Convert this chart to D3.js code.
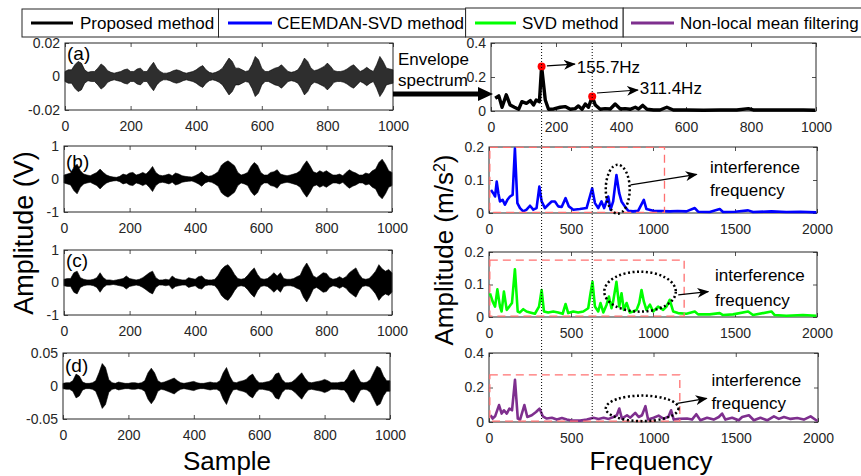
<!DOCTYPE html>
<html><head><meta charset="utf-8">
<script src="https://cdn.jsdelivr.net/npm/d3@7"></script>
<style>body{margin:0;background:#fff}svg text{font-family:"Liberation Sans",Arial,Helvetica,sans-serif}</style>
</head><body>
<svg id="c" width="861" height="476"></svg>
<script>
// ---------------- DATA ----------------
const legendLabels = ["Proposed method","CEEMDAN-SVD method","SVD method","Non-local mean filtering"];
const seriesColors = ["#000000","#0000ff","#00ff00","#7e2f8e"];
const panelLabels = ["(a)","(b)","(c)","(d)"];

// sample positions (every 10 samples) for the time-domain envelopes
const sampleIdx = d3.range(0, 1001, 10);

// peak amplitude per 10-sample bin
const sigA = [0.003,0.004,0.004,0.007,0.009,0.008,0.004,0.0025,0.003,0.003,
 0.005,0.0075,0.006,0.0035,0.0025,0.002,0.0025,0.003,0.004,0.0045,
 0.003,0.003,0.0045,0.005,0.003,0.003,0.006,0.0085,0.005,0.003,
 0.002,0.002,0.0025,0.0035,0.004,0.0035,0.0025,0.002,0.0025,0.003,
 0.004,0.0055,0.0065,0.004,0.0025,0.002,0.0025,0.0035,0.005,0.008,
 0.011,0.009,0.005,0.005,0.004,0.003,0.0035,0.007,0.012,0.010,
 0.005,0.003,0.003,0.004,0.005,0.0055,0.007,0.005,0.003,0.0025,
 0.003,0.004,0.007,0.011,0.009,0.005,0.0035,0.004,0.005,0.006,
 0.008,0.006,0.0035,0.003,0.003,0.0035,0.0045,0.006,0.007,0.005,
 0.003,0.004,0.0055,0.004,0.003,0.007,0.012,0.009,0.005,0.0045,0.004];
const sigB = [0.12,0.15,0.18,0.35,0.45,0.25,0.15,0.12,0.1,0.15,
 0.2,0.3,0.2,0.12,0.08,0.06,0.05,0.08,0.15,0.12,
 0.18,0.2,0.12,0.15,0.2,0.15,0.25,0.38,0.2,0.12,
 0.1,0.12,0.15,0.1,0.18,0.15,0.1,0.08,0.07,0.06,
 0.1,0.15,0.22,0.12,0.08,0.1,0.15,0.22,0.42,0.5,
 0.55,0.48,0.4,0.2,0.12,0.15,0.2,0.38,0.5,0.42,
 0.2,0.12,0.12,0.2,0.22,0.28,0.15,0.12,0.1,0.12,
 0.15,0.18,0.25,0.42,0.55,0.4,0.22,0.18,0.25,0.2,
 0.25,0.18,0.12,0.12,0.15,0.1,0.2,0.28,0.22,0.18,
 0.12,0.12,0.18,0.15,0.25,0.3,0.5,0.6,0.45,0.25,0.2];
const sigC = [0.1,0.12,0.12,0.3,0.35,0.15,0.1,0.08,0.08,0.1,
 0.15,0.3,0.15,0.08,0.08,0.06,0.08,0.1,0.12,0.2,
 0.12,0.1,0.08,0.1,0.15,0.22,0.3,0.35,0.15,0.08,
 0.08,0.1,0.08,0.2,0.12,0.1,0.08,0.08,0.15,0.12,
 0.1,0.18,0.2,0.1,0.08,0.08,0.1,0.22,0.4,0.5,
 0.55,0.42,0.25,0.12,0.1,0.12,0.22,0.35,0.45,0.25,
 0.12,0.1,0.12,0.2,0.3,0.2,0.3,0.12,0.1,0.1,
 0.12,0.18,0.22,0.45,0.6,0.42,0.2,0.15,0.22,0.3,
 0.28,0.15,0.1,0.12,0.18,0.12,0.18,0.3,0.38,0.45,
 0.25,0.12,0.1,0.12,0.22,0.35,0.55,0.42,0.35,0.4,0.3];
const sigD = [0.004,0.005,0.005,0.008,0.018,0.015,0.006,0.004,0.004,0.005,
 0.008,0.02,0.034,0.028,0.01,0.005,0.004,0.006,0.005,0.004,
 0.004,0.005,0.005,0.004,0.005,0.008,0.02,0.027,0.02,0.008,
 0.005,0.006,0.008,0.01,0.012,0.008,0.005,0.004,0.005,0.006,
 0.007,0.005,0.004,0.004,0.005,0.006,0.005,0.005,0.008,0.02,
 0.028,0.015,0.006,0.005,0.007,0.008,0.01,0.015,0.018,0.01,
 0.005,0.005,0.006,0.007,0.01,0.018,0.02,0.01,0.005,0.005,
 0.006,0.01,0.015,0.02,0.012,0.006,0.005,0.006,0.007,0.008,
 0.01,0.008,0.005,0.005,0.005,0.006,0.006,0.012,0.022,0.025,
 0.015,0.006,0.005,0.006,0.01,0.02,0.03,0.027,0.015,0.008,0.008];

// spectra: [frequency, amplitude]
const envSpecA = [[13,0.075],[24,0.089],[34,0.022],[47,0.095],[59,0.035],[72,0.022],[85,0.01],[95,0.055],
 [109,0.045],[121,0.061],[131,0.035],[139,0.065],[149,0.055],[155.7,0.262],[167,0.065],[177,0.01],
 [193,0.012],[213,0.022],[228,0.026],[244,0.01],[259,0.014],[269,0.03],[280,0.01],[290,0.041],
 [300,0.022],[311.4,0.085],[321,0.035],[336,0.01],[351,0.014],[367,0.012],[382,0.041],[398,0.012],
 [413,0.014],[428,0.01],[444,0.022],[454,0.012],[467,0.033],[480,0.01],[500,0.006],[520,0.006],
 [541,0.022],[561,0.006],[602,0.006],[654,0.004],[705,0.006],[756,0.006],[792,0.014],[807,0.006],
 [859,0.006],[910,0.006],[961,0.006],[997,0.004]];
const envPeaks = [[155.7,0.262],[311.4,0.085]];
const specB = [[12,0.07],[26,0.06],[37,0.05],[47,0.095],[57,0.06],[67,0.035],[83,0.04],[97,0.025],
 [112,0.04],[128,0.05],[144,0.055],[158,0.195],[173,0.03],[189,0.015],[209,0.005],[229,0.01],
 [250,0.022],[270,0.01],[290,0.015],[307,0.08],[321,0.035],[341,0.015],[361,0.025],[382,0.035],
 [402,0.035],[422,0.02],[443,0.018],[467,0.045],[487,0.02],[514,0.01],[554,0.012],[595,0.015],
 [615,0.05],[629,0.075],[646,0.03],[666,0.015],[686,0.035],[702,0.015],[727,0.05],[741,0.01],
 [757,0.035],[777,0.115],[794,0.06],[808,0.035],[828,0.02],[849,0.007],[879,0.005],[910,0.007],
 [944,0.04],[960,0.012],[1001,0.007],[1050,0.006],[1102,0.005],[1150,0.006],[1204,0.005],[1255,0.015],
 [1275,0.004],[1346,0.003],[1407,0.012],[1427,0.003],[1500,0.004],[1580,0.008],[1610,0.003],[1722,0.005],
 [1813,0.003],[1900,0.004],[1996,0.002]];
const specC = [[6,0.073],[22,0.048],[37,0.032],[51,0.085],[67,0.032],[77,0.017],[91,0.078],[108,0.022],
 [124,0.032],[140,0.043],[158,0.147],[175,0.017],[189,0.014],[209,0.024],[229,0.017],[250,0.014],
 [280,0.01],[305,0.032],[321,0.083],[335,0.017],[361,0.014],[392,0.017],[422,0.014],[449,0.01],
 [467,0.04],[483,0.012],[514,0.017],[544,0.014],[575,0.017],[605,0.027],[619,0.073],[631,0.108],
 [646,0.032],[666,0.017],[680,0.043],[697,0.014],[717,0.038],[731,0.063],[747,0.027],[757,0.048],
 [777,0.108],[794,0.032],[808,0.073],[822,0.022],[839,0.043],[859,0.014],[879,0.017],[900,0.022],
 [916,0.043],[930,0.083],[944,0.048],[960,0.022],[981,0.038],[1001,0.017],[1031,0.032],[1062,0.022],
 [1082,0.032],[1102,0.053],[1123,0.017],[1153,0.012],[1204,0.01],[1255,0.017],[1275,0.008],[1346,0.008],
 [1407,0.012],[1427,0.006],[1488,0.008],[1580,0.017],[1610,0.006],[1722,0.017],[1742,0.006],[1813,0.004],
 [1914,0.006],[1996,0.004]];
const specD = [[10,0.039],[22,0.02],[37,0.033],[61,0.098],[77,0.049],[91,0.068],[108,0.049],[124,0.078],
 [140,0.068],[158,0.244],[175,0.02],[189,0.014],[215,0.098],[233,0.029],[260,0.039],[286,0.058],
 [307,0.078],[327,0.033],[351,0.02],[382,0.025],[412,0.014],[443,0.023],[473,0.014],[504,0.008],
 [554,0.008],[595,0.014],[635,0.025],[666,0.018],[697,0.025],[727,0.018],[757,0.029],[777,0.039],
 [792,0.078],[808,0.02],[839,0.039],[859,0.025],[889,0.053],[910,0.029],[930,0.039],[951,0.092],
 [967,0.014],[1001,0.025],[1031,0.037],[1062,0.018],[1092,0.033],[1107,0.068],[1123,0.014],[1153,0.018],
 [1204,0.02],[1234,0.014],[1260,0.045],[1285,0.01],[1326,0.025],[1366,0.014],[1397,0.029],[1417,0.049],
 [1437,0.014],[1478,0.025],[1518,0.01],[1539,0.029],[1580,0.039],[1610,0.01],[1650,0.025],[1691,0.01],
 [1732,0.033],[1762,0.018],[1793,0.029],[1833,0.018],[1874,0.023],[1914,0.014],[1955,0.033],[1996,0.006]];

// tick labels
const sampleTicks = [0,200,400,600,800,1000];
const envFreqTicks = [0,200,400,600,800,1000];
const freqTicks = [0,500,1000,1500,2000];
const yTicksA = [-0.02,0,0.02];
const yTicksBC = [-1,0,1];
const yTicksD = [-0.05,0,0.05];
const yTicksEnv = [0,0.2,0.4];
const yTicksSpec = [0,0.1,0.2];

// ---------------- DRAWING ----------------
const svg = d3.select("#c");
const AX = "#262626";

function panel(r, xd, yd, xt, yt){
  const x = d3.scaleLinear().domain(xd).range([r.x0, r.x1]);
  const y = d3.scaleLinear().domain(yd).range([r.y1, r.y0]);
  const g = svg.append("g");
  const fmt = d => String(d);
  const style = sel => {
    sel.select(".domain").remove();
    sel.selectAll("line").attr("stroke", AX).attr("stroke-width", 0.8);
    sel.selectAll("text").attr("fill", AX).attr("font-size", 14);
    sel.attr("font-family", null).attr("font-size", null);
  };
  g.append("g").attr("transform", `translate(0,${r.y1})`)
    .call(d3.axisBottom(x).tickValues(xt).tickFormat(fmt).tickSizeInner(-4).tickSizeOuter(0).tickPadding(11)).call(style);
  g.append("g").attr("transform", `translate(0,${r.y0})`)
    .call(d3.axisTop(x).tickValues(xt).tickFormat("").tickSizeInner(-4).tickSizeOuter(0)).call(style);
  g.append("g").attr("transform", `translate(${r.x0},0)`)
    .call(d3.axisLeft(y).tickValues(yt).tickFormat(fmt).tickSizeInner(-4).tickSizeOuter(0).tickPadding(5)).call(style);
  g.append("g").attr("transform", `translate(${r.x1},0)`)
    .call(d3.axisRight(y).tickValues(yt).tickFormat("").tickSizeInner(-4).tickSizeOuter(0)).call(style);
  g.append("rect").attr("class","frame").attr("x", r.x0).attr("y", r.y0).attr("width", r.x1 - r.x0).attr("height", r.y1 - r.y0)
    .attr("fill", "none").attr("stroke", AX).attr("stroke-width", 1);
  return {x, y, g};
}

const L = [
  {x0:65, x1:393, y0:43, y1:110},
  {x0:64, x1:392, y0:146, y1:212},
  {x0:64, x1:392, y0:250, y1:315},
  {x0:63, x1:390, y0:353, y1:419}
];
const R = [
  {x0:491, x1:816, y0:43, y1:111},
  {x0:489, x1:817, y0:147, y1:213},
  {x0:489, x1:817, y0:252, y1:317},
  {x0:489, x1:818, y0:353, y1:422}
];
const sigs = [sigA, sigB, sigC, sigD];
const yDomL = [[-0.02,0.02],[-1,1],[-1,1],[-0.05,0.05]];
const yTL = [yTicksA, yTicksBC, yTicksBC, yTicksD];
const labelBase = [60,168,267,372];

sigs.forEach((s, k) => {
  const p = panel(L[k], [0,1000], yDomL[k], sampleTicks, yTL[k]);
  const col = k === 0 ? "#2e2e2e" : "#000";
  const area = d3.area().x((d,i) => p.x(sampleIdx[i])).y0(d => p.y(-d)).y1(d => p.y(d));
  p.g.insert("path", ".frame").datum(s).attr("d", area)
    .attr("fill", col).attr("stroke", "#000").attr("stroke-width", 0.6);
  p.g.append("text").attr("x", L[k].x0 + 2).attr("y", labelBase[k]).attr("font-size", 19).text(panelLabels[k]);
});

const defs = svg.append("defs");
defs.append("marker").attr("id","ah").attr("viewBox","0 0 12 10").attr("refX",11).attr("refY",5)
  .attr("markerWidth",12).attr("markerHeight",10).attr("markerUnits","userSpaceOnUse").attr("orient","auto")
  .append("path").attr("d","M0,0 L12,5 L0,10 L3.5,5 Z").attr("fill","#000");

const specs = [envSpecA, specB, specC, specD];
const xDomR = [[0,1000],[0,2000],[0,2000],[0,2000]];
const yDomR = [[0,0.4],[0,0.2],[0,0.2],[0,0.4]];
const xTR = [envFreqTicks, freqTicks, freqTicks, freqTicks];
const yTR = [yTicksEnv, yTicksSpec, yTicksSpec, yTicksEnv];
const widths = [3.4, 2.6, 2.6, 2.6];
const P = [];
specs.forEach((s, k) => {
  const p = panel(R[k], xDomR[k], yDomR[k], xTR[k], yTR[k]);
  P.push(p);
  const line = d3.line().x(d => p.x(d[0])).y(d => p.y(d[1]));
  p.g.append("path").datum(s).attr("d", line).attr("fill","none")
    .attr("stroke", seriesColors[k]).attr("stroke-width", widths[k]).attr("stroke-linejoin","round");
});
P[0].g.selectAll("circle.pk").data(envPeaks).join("circle")
  .attr("cx", d => P[0].x(d[0])).attr("cy", d => P[0].y(d[1])).attr("r", 4).attr("fill", "#ff0000");

envPeaks.forEach(d => {
  svg.append("line").attr("x1", P[0].x(d[0])).attr("x2", P[0].x(d[0]))
    .attr("y1", R[0].y0).attr("y2", R[3].y1 - 2)
    .attr("stroke", "#000").attr("stroke-width", 1).attr("stroke-dasharray", "1,2");
});

function arrow(p, a, b, w){
  svg.append("line").attr("x1", p.x(a[0])).attr("y1", p.y(a[1])).attr("x2", p.x(b[0])).attr("y2", p.y(b[1]))
    .attr("stroke","#000").attr("stroke-width", w || 1.2).attr("marker-end","url(#ah)");
}
arrow(P[0], [172,0.265], [258,0.276]);
svg.append("text").attr("x", P[0].x(264)).attr("y", P[0].y(0.2235)).attr("font-size", 17).text("155.7Hz");
arrow(P[0], [326,0.106], [452,0.1235]);
svg.append("text").attr("x", P[0].x(458)).attr("y", P[0].y(0.10)).attr("font-size", 17).text("311.4Hz");

const boxes = [null, [5,1070,0.002,0.199],[5,1190,0.003,0.175],[5,1160,0.005,0.273]];
const ells = [null, [785,0.072,73,0.074],[921,0.078,218,0.0615],[931,0.079,221,0.074]];
const arrs = [null, [[864,0.085],[1266,0.117]], [[1154,0.068],[1337,0.078]], [[1145,0.108],[1323,0.137]]];
const notes = [null, [1348,0.121,0.0515],[1378,0.111,0.034],[1352,0.209,0.075]];
for (let k = 1; k < 4; k++){
  const p = P[k], b = boxes[k], e = ells[k];
  svg.append("rect").attr("x", p.x(b[0])).attr("y", p.y(b[3]))
    .attr("width", p.x(b[1]) - p.x(b[0])).attr("height", p.y(b[2]) - p.y(b[3]))
    .attr("fill","none").attr("stroke","#ff7070").attr("stroke-width",1.3).attr("stroke-dasharray","8,5");
  svg.append("ellipse").attr("cx", p.x(e[0])).attr("cy", p.y(e[1]))
    .attr("rx", p.x(e[2]) - p.x(0)).attr("ry", p.y(0) - p.y(e[3]))
    .attr("fill","none").attr("stroke","#000").attr("stroke-width",2.5).attr("stroke-dasharray","2,2.5");
  arrow(p, arrs[k][0], arrs[k][1]);
  svg.append("text").attr("x", p.x(notes[k][0])).attr("y", p.y(notes[k][1])).attr("font-size",17).text("interference");
  svg.append("text").attr("x", p.x(notes[k][0])).attr("y", p.y(notes[k][2])).attr("font-size",17).text("frequency");
}

svg.append("text").attr("x", 398).attr("y", 65).attr("font-size", 17).text("Envelope");
svg.append("text").attr("x", 398).attr("y", 86).attr("font-size", 17).text("spectrum");
svg.append("line").attr("x1", 393).attr("y1", 94).attr("x2", 480).attr("y2", 94).attr("stroke","#000").attr("stroke-width",5);
svg.append("path").attr("d","M478,87 L493,94 L478,101 Z").attr("fill","#000");

svg.append("text").attr("transform","translate(33,233) rotate(-90)").attr("text-anchor","middle")
  .attr("font-size",27).text("Amplitude (V)");
const t2 = svg.append("text").attr("transform","translate(453,250) rotate(-90)").attr("text-anchor","middle")
  .attr("font-size",26);
t2.append("tspan").text("Amplitude (m/s");
t2.append("tspan").attr("baseline-shift","super").attr("font-size",16).text("2");
t2.append("tspan").text(")");
svg.append("text").attr("x",227).attr("y",470).attr("text-anchor","middle").attr("font-size",26).text("Sample");
svg.append("text").attr("x",651).attr("y",470).attr("text-anchor","middle").attr("font-size",26).text("Frequency");

const legBoxes = [[22,218.5,9],[218.5,465.6,9],[465.6,623.2,8],[623.2,875,8]];
const legLines = [[31,73],[228,272],[475,516],[631,674]];
const legText = [80,277,522,680];
const lg = svg.append("g");
legendLabels.forEach((t,i) => {
  const b = legBoxes[i];
  lg.append("rect").attr("x",b[0]).attr("y",b[2]).attr("width",b[1]-b[0]).attr("height",37-b[2])
    .attr("fill","#fff").attr("stroke",AX).attr("stroke-width",1);
});
legendLabels.forEach((t,i) => {
  lg.append("line").attr("x1",legLines[i][0]).attr("x2",legLines[i][1]).attr("y1",23).attr("y2",23)
    .attr("stroke",seriesColors[i]).attr("stroke-width",3);
  lg.append("text").attr("x",legText[i]).attr("y",29).attr("font-size",17).attr("fill","#000").text(t);
});
</script>
</body></html>
